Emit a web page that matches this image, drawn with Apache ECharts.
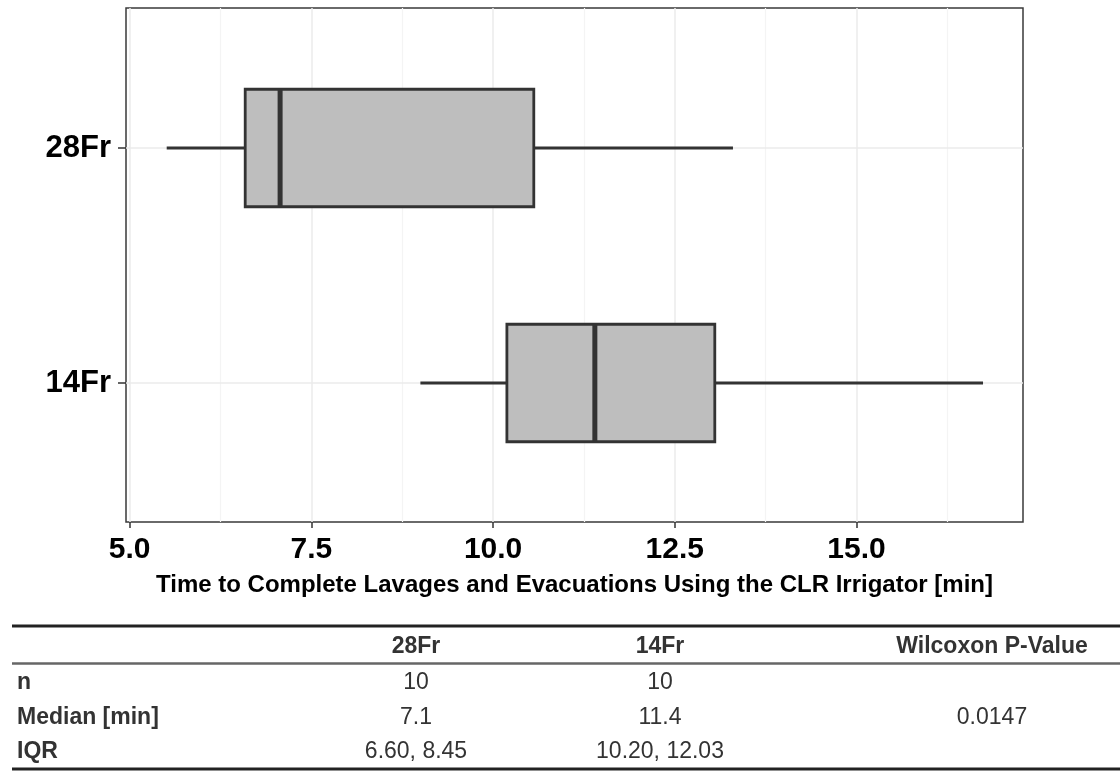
<!DOCTYPE html>
<html>
<head>
<meta charset="utf-8">
<script src="https://cdn.jsdelivr.net/npm/echarts@6/dist/echarts.min.js"></script>
<style>
html,body{margin:0;padding:0;background:#fff;}
#chart{width:1120px;height:771px;}
</style>
</head>
<body>
<div id="chart"></div>
<script>
// ---- data ----
const categories = ['14Fr', '28Fr'];
const whiskerLow  = [9.00, 5.51];
const q1          = [10.19, 6.59];
const median      = [11.40, 7.07];
const q3          = [13.05, 10.56];
const whiskerHigh = [16.74, 13.30];

const xMin = 4.95, xMax = 17.29;
const majorTicks = [5, 7.5, 10, 12.5, 15];
const minorTicks = [6.25, 8.75, 11.25, 13.75, 16.25];
const xTitle = 'Time to Complete Lavages and Evacuations Using the CLR Irrigator [min]';

const tableHeaders = ['', '28Fr', '14Fr', 'Wilcoxon P-Value'];
const rowLabels = ['n', 'Median [min]', 'IQR'];
const col28 = ['10', '7.1', '6.60, 8.45'];
const col14 = ['10', '11.4', '10.20, 12.03'];
const colP  = ['', '0.0147', ''];

// ---- chart ----
const FONT = '"Liberation Sans", Arial, sans-serif';
const chart = echarts.init(document.getElementById('chart'), null, {renderer: 'canvas'});

const boxData = categories.map((c, i) => [i, whiskerLow[i], q1[i], median[i], q3[i], whiskerHigh[i]]);

function renderItem(params, api) {
  const ci = api.value(0);
  const lo = api.coord([api.value(1), ci]);
  const a = api.coord([api.value(2), ci]);
  const m = api.coord([api.value(3), ci]);
  const b = api.coord([api.value(4), ci]);
  const hi = api.coord([api.value(5), ci]);
  const bh = api.size([0, 1])[1] * 0.5;
  const cs = params.coordSys;
  const y = lo[1];
  const ink = '#333333';
  return {
    type: 'group',
    children: [
      {type: 'line', z2: 0, shape: {x1: cs.x, y1: y, x2: cs.x + cs.width, y2: y}, style: {stroke: '#ebebeb', lineWidth: 1.5}},
      {type: 'line', z2: 1, shape: {x1: lo[0], y1: y, x2: a[0], y2: y}, style: {stroke: ink, lineWidth: 2.8}},
      {type: 'line', z2: 1, shape: {x1: b[0], y1: y, x2: hi[0], y2: y}, style: {stroke: ink, lineWidth: 2.8}},
      {type: 'rect', z2: 2, shape: {x: a[0], y: y - bh / 2, width: b[0] - a[0], height: bh}, style: {fill: '#bebebe', stroke: ink, lineWidth: 2.8}},
      {type: 'line', z2: 3, shape: {x1: m[0], y1: y - bh / 2, x2: m[0], y2: y + bh / 2}, style: {stroke: ink, lineWidth: 5}}
    ]
  };
}

// table graphics
const colX = [17, 416, 660, 992];
const headerY = 647;
const rowY = [683, 718, 752];
const graphics = [];
graphics.push({type: 'line', shape: {x1: 12, y1: 626, x2: 1120, y2: 626}, style: {stroke: '#222', lineWidth: 3}});
graphics.push({type: 'line', shape: {x1: 12, y1: 663.5, x2: 1120, y2: 663.5}, style: {stroke: '#666', lineWidth: 2.5}});
graphics.push({type: 'line', shape: {x1: 12, y1: 769, x2: 1120, y2: 769}, style: {stroke: '#222', lineWidth: 3}});
function txt(s, x, y, align, bold) {
  return {type: 'text', x: x, y: y, style: {text: s, align: align, verticalAlign: 'middle', textAlign: align, textVerticalAlign: 'middle', fontSize: 23, fontWeight: bold ? 'bold' : 'normal', fontFamily: FONT, fill: '#333'}};
}
tableHeaders.forEach((h, j) => { if (h) graphics.push(txt(h, colX[j], headerY, j === 0 ? 'left' : 'center', true)); });
rowLabels.forEach((r, i) => {
  graphics.push(txt(r, colX[0], rowY[i], 'left', true));
  if (col28[i]) graphics.push(txt(col28[i], colX[1], rowY[i], 'center', false));
  if (col14[i]) graphics.push(txt(col14[i], colX[2], rowY[i], 'center', false));
  if (colP[i]) graphics.push(txt(colP[i], colX[3], rowY[i], 'center', false));
});

const option = {
  backgroundColor: '#ffffff',
  animation: false,
  grid: [
    {left: 126, right: 97, top: 8, height: 514, show: true, borderColor: '#3a3a3a', borderWidth: 1.5, backgroundColor: 'transparent', containLabel: false},
    {left: 126, right: 97, top: 30.5, height: 470, containLabel: false}
  ],
  xAxis: [
    {
      type: 'value', gridIndex: 0, min: xMin, max: xMax, position: 'bottom',
      axisLine: {show: false},
      axisTick: {show: true, length: 6, customValues: majorTicks, lineStyle: {color: '#333', width: 1.5}},
      axisLabel: {show: true, customValues: majorTicks, margin: 13, color: '#000', fontSize: 30, fontWeight: 'bold', fontFamily: FONT, lineHeight: 30, formatter: v => v.toFixed(1)},
      splitLine: {show: true, lineStyle: {color: '#ebebeb', width: 1.5}},
      name: xTitle, nameLocation: 'middle', nameGap: 51,
      nameTextStyle: {color: '#000', fontSize: 24, fontWeight: 'bold', fontFamily: FONT, lineHeight: 24}
    },
    {
      type: 'value', gridIndex: 0, min: xMin, max: xMax, position: 'top',
      axisLine: {show: false},
      axisTick: {show: false, customValues: minorTicks},
      axisLabel: {show: false, customValues: minorTicks},
      splitLine: {show: true, lineStyle: {color: '#f4f4f4', width: 1.2}}
    },
    {
      type: 'value', gridIndex: 1, min: xMin, max: xMax,
      axisLine: {show: false}, axisTick: {show: false}, axisLabel: {show: false}, splitLine: {show: false}
    }
  ],
  yAxis: [
    {type: 'value', gridIndex: 0, min: 0, max: 1, show: false},
    {
      type: 'category', gridIndex: 1, data: categories,
      axisLine: {show: false},
      axisTick: {show: true, alignWithLabel: true, length: 8, lineStyle: {color: '#333', width: 1.5}},
      axisLabel: {margin: 15, color: '#000', fontSize: 31, fontWeight: 'bold', fontFamily: FONT},
      splitLine: {show: false}
    }
  ],
  series: [
    {
      type: 'custom', xAxisIndex: 2, yAxisIndex: 1,
      renderItem: renderItem,
      encode: {y: 0, x: [1, 2, 3, 4, 5]},
      data: boxData, silent: true
    }
  ],
  graphic: graphics
};
chart.setOption(option);
</script>
</body>
</html>
